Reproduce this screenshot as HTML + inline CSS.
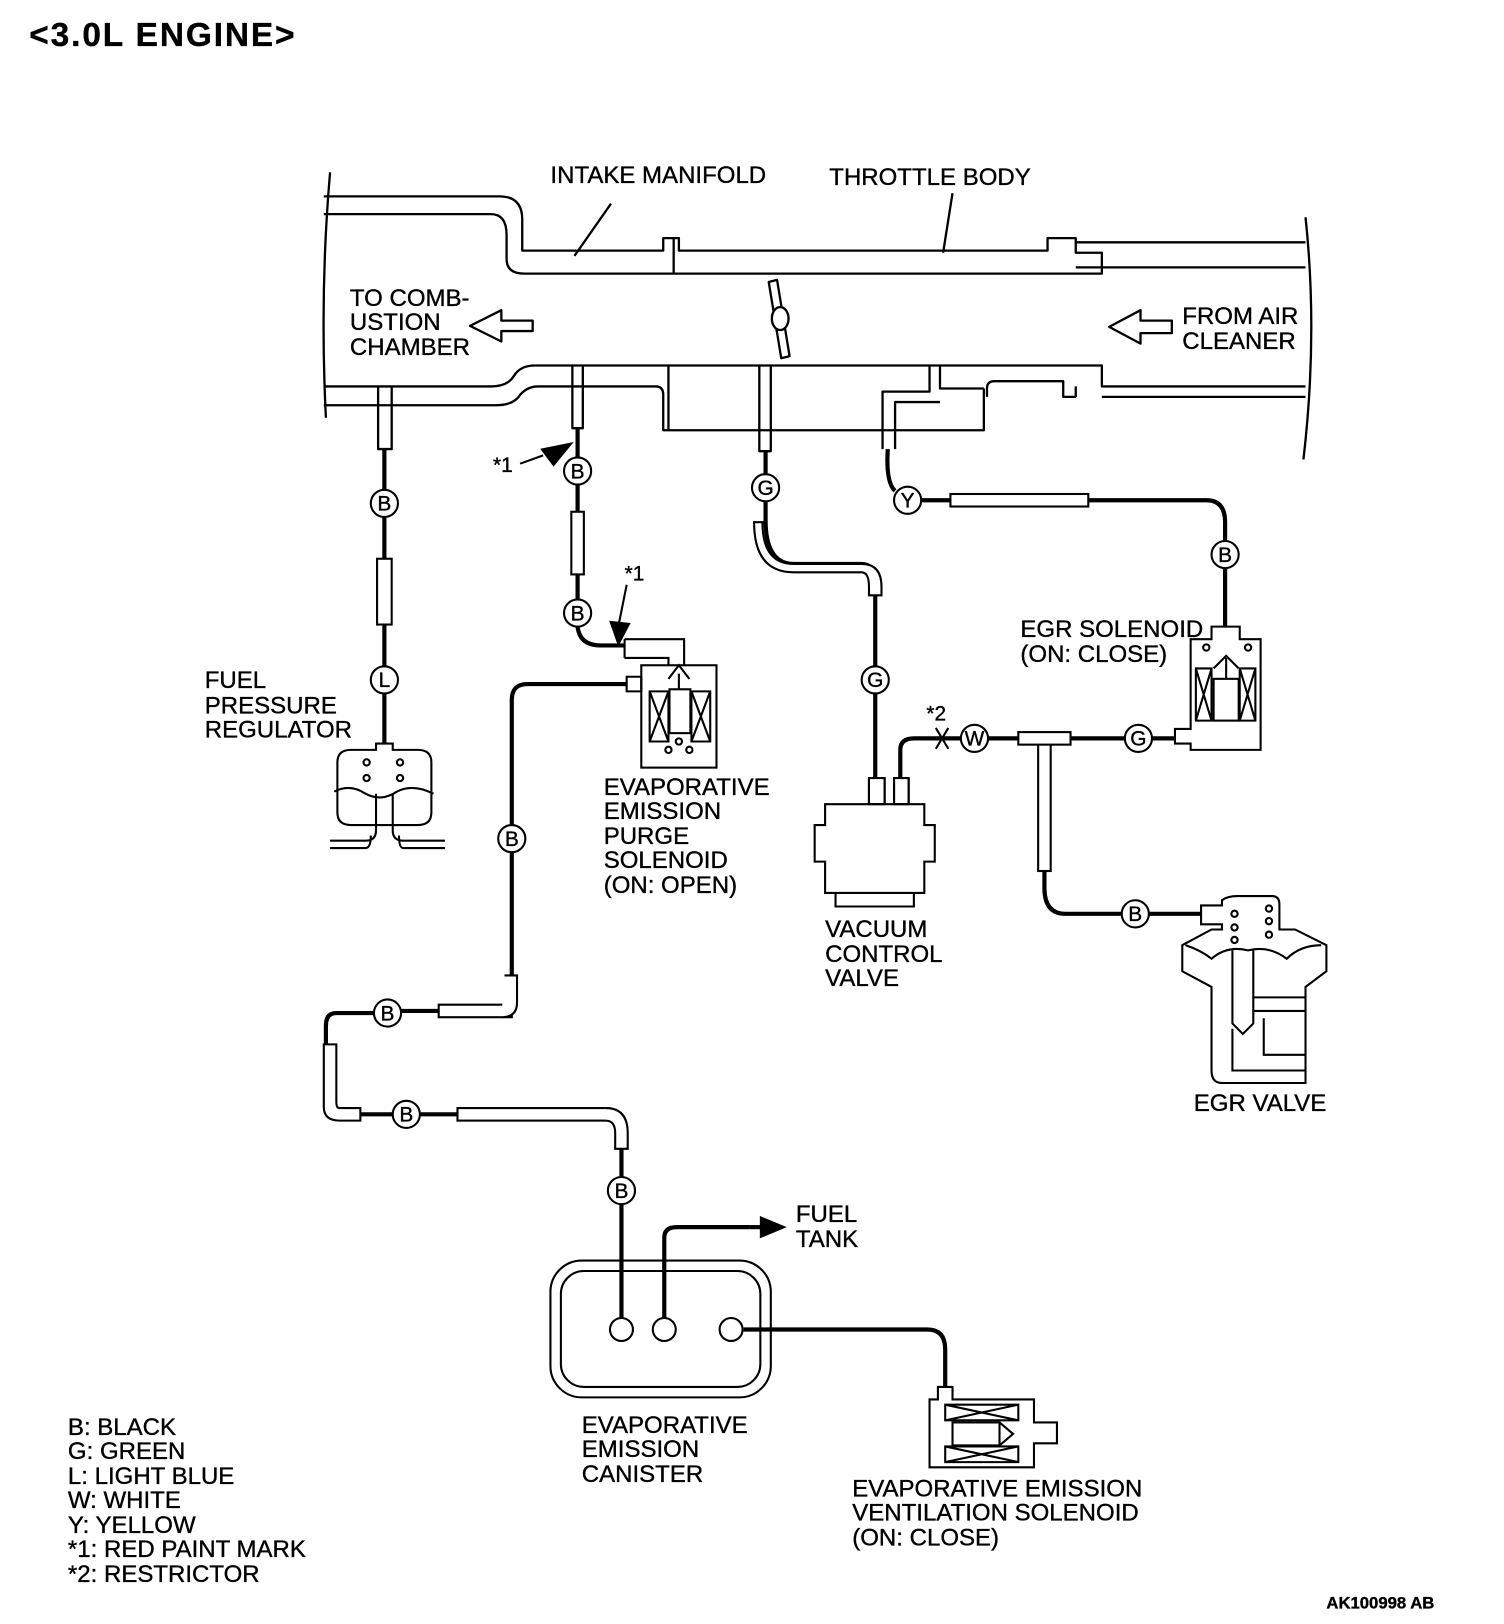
<!DOCTYPE html>
<html><head><meta charset="utf-8"><style>
html,body{margin:0;padding:0;background:#fff;}
svg{display:block}
text{font-family:"Liberation Sans",Arial,sans-serif;fill:#000;stroke:#000;stroke-width:0.35;}
</style></head><body>
<svg width="1504" height="1624" viewBox="0 0 1440 1555" xmlns="http://www.w3.org/2000/svg">
<g fill="none" stroke="#000" stroke-width="2.2" stroke-linejoin="round">
<path d="M316,165 Q306,280 312,400"/>
<path d="M1250,208 Q1262,320 1248,440"/>
<path d="M310,188 H478 Q500,188 500,210 V240 H635 V228 H650 V240 H1003 V228 H1030 V232 H1250"/>
<path d="M310,205 H470 Q485,205 485,225 V248 Q485,262 502,262 H1055 V242 H1030 V232"/>
<path d="M645,228 V262"/>
<path d="M1030,256 H1250"/>
<path d="M310,370 H470 Q486,370 492,360 Q498,350 512,350 H1055 V370 H1250"/>
<path d="M310,388 H475 Q492,388 498,378 Q505,370 515,370 H628 Q635,370 635,378 V412 H942 V372"/>
<path d="M1055,380 H1250"/>
<path d="M1030,370 V380"/>
<path d="M640,350 V412"/>
<path d="M900,350 V372 H942"/>
<path d="M945,380 V372 Q945,365 952,365 H1018 V380 H1030"/>
<path d="M362,370 V430 H375 V370"/>
<path d="M548,350 V410 H558 V350"/>
<path d="M727,350 V432 H738 V350"/>
<path d="M845,430 V375 H890 V350 M857,430 V385 H900"/>
<path d="M585,195 L550,245"/>
<path d="M912,185 L903,242"/>
<polygon points="736,270 744,268 756,341 748,343" fill="#fff"/>
<ellipse cx="747" cy="305" rx="8" ry="11" fill="#fff"/>
<path d="M510,307 H480 V297 L450,312 L480,327 V317 H510 Z" fill="#fff"/>
<path d="M1122,307 H1092 V297 L1062,313 L1092,329 V319 H1122 Z" fill="#fff"/>
</g>

<g fill="none" stroke="#000" stroke-width="4">
<path d="M368,430 V469 M368,495 V638 M368,664 V712"/>
<path d="M553,410 V438 M553,464 V574 M553,600 Q555,618 575,618 H598"/>
<path d="M600,655 H505 Q490,655 490,670 V790 M490,816 V935 Q490,945 485,948"/>
<path d="M420,968 H384 M358,970 H322 Q312,970 312,982 V1058 Q312,1067 325,1067 H376 M402,1067 H580 Q595,1067 595,1085 V1127 M595,1153 V1262"/>
<path d="M636,1262 V1185 Q636,1175 648,1175 H718"/>
<path d="M712,1273 H888 Q905,1273 905,1292 V1328"/>
<path d="M733,432 V454 M733,480 V498 Q733,540 760,540 H825 Q838,540 838,560 V638 M838,664 V745"/>
<path d="M862,745 V718 Q862,707 875,707 H920 M946,707 H1077 M1103,707 H1125"/>
<path d="M1000,718 V850 Q1000,875 1020,875 H1074 M1100,875 H1150"/>
<path d="M850,430 Q848,462 857,470 M882,479 H1155 Q1173,479 1173,500 V518 M1173,544 V600"/>
</g>
<g fill="#fff" stroke="#000" stroke-width="2">
<rect x="361" y="535" width="14" height="63"/>
<rect x="547" y="490" width="12" height="60"/>
<rect x="420" y="962" width="70" height="12"/>
<path d="M483,934 L495,934 L495,960 Q495,974 480,974"/>
<rect x="438" y="1061" width="145" height="12"/>
<path d="M580,1061 Q601,1061 601,1085 V1100 H589 V1085 Q589,1073 580,1073"/>
<path d="M314,1000 H310 V1060 Q310,1073 325,1073 H345 V1061 H325 Q322,1061 322,1055 V1000 Z"/>
<path d="M730,500 Q730,540 760,540 H825 Q844,540 844,562 V570 H832 V562 Q832,548 825,548 H760 Q722,548 722,500 Z"/>
<rect x="910" y="473" width="132" height="12"/>
<rect x="994" y="710" width="12" height="124"/>
<rect x="975" y="701" width="50" height="12"/>
</g>
<g fill="#fff" stroke="#000" stroke-width="2">
<circle cx="368" cy="482" r="13"/><circle cx="368" cy="651" r="13"/>
<circle cx="553" cy="451" r="13"/><circle cx="553" cy="587" r="13"/>
<circle cx="490" cy="803" r="13"/><circle cx="371" cy="970" r="13"/>
<circle cx="389" cy="1067" r="13"/><circle cx="595" cy="1140" r="13"/>
<circle cx="733" cy="467" r="13"/><circle cx="838" cy="651" r="13"/>
<circle cx="933" cy="707" r="13"/><circle cx="1090" cy="707" r="13"/>
<circle cx="1087" cy="875" r="13"/><circle cx="869" cy="479" r="13"/>
<circle cx="1173" cy="531" r="13"/>
</g>
<g font-size="20" text-anchor="middle">
<text x="368" y="489">B</text><text x="368" y="658">L</text>
<text x="553" y="458">B</text><text x="553" y="594">B</text>
<text x="490" y="810">B</text><text x="371" y="977">B</text>
<text x="389" y="1074">B</text><text x="595" y="1147">B</text>
<text x="733" y="474">G</text><text x="838" y="658">G</text>
<text x="933" y="714">W</text><text x="1090" y="714">G</text>
<text x="1087" y="882">B</text><text x="869" y="486">Y</text>
<text x="1173" y="538">B</text>
</g>

<g fill="none" stroke="#000" stroke-width="2">
<path d="M360,712 H376 V718 H400 Q413,718 413,730 V778 Q413,790 400,790 H336 Q323,790 323,778 V730 Q323,718 336,718 H360 Z"/>
<path d="M320,758 Q335,750 350,760 Q365,768 380,758 Q395,750 415,760"/>
<path d="M360,760 V795 Q360,805 350,805 H316 M376,760 V795 Q376,805 386,805 H426 M316,812 H350 Q355,812 355,800 M426,812 H386 Q382,812 382,800"/>
<circle cx="351" cy="730" r="3"/><circle cx="351" cy="745" r="3"/><circle cx="383" cy="730" r="3"/><circle cx="383" cy="745" r="3"/>
<path d="M598,612 H655 V637 M598,630 H640 V637 M598,612 V630"/>
<rect x="614" y="637" width="72" height="98"/>
<path d="M622,662 H640 V710 H622 Z M622,662 L640,710 M640,662 L622,710 M662,662 H680 V710 H662 Z M662,662 L680,710 M680,662 L662,710"/>
<rect x="641" y="660" width="20" height="42"/>
<path d="M640,650 L650,637 L660,650 M650,645 V660"/>
<path d="M600,648 H614 V662 H600 Z"/>
<circle cx="640" cy="718" r="3"/><circle cx="660" cy="718" r="3"/><circle cx="650" cy="710" r="3"/>
<path d="M832,745 V770 M847,745 V770 M856,745 V770 M870,745 V770"/>
<rect x="832" y="745" width="15" height="25"/><rect x="856" y="745" width="14" height="25"/>
<path d="M790,770 H885 V790 H895 V825 H885 V855 H790 V825 H780 V790 H790 Z"/>
<path d="M800,855 V868 H875 V855"/>
<path d="M896,697 L908,717 M908,697 L896,717"/>
<path d="M1160,600 H1187 V612 H1207 V718 H1140 V712 H1125 V698 H1140 V612 H1160 Z"/>
<path d="M1145,640 H1160 V690 H1145 Z M1145,640 L1160,690 M1160,640 L1145,690 M1187,640 H1202 V690 H1187 Z M1187,640 L1202,690 M1202,640 L1187,690"/>
<rect x="1162" y="650" width="24" height="40"/>
<path d="M1162,640 L1174,628 L1186,640 M1174,630 V650"/>
<circle cx="1155" cy="620" r="3"/><circle cx="1195" cy="620" r="3"/>
<path d="M1150,867 H1170 V862 Q1175,858 1185,858 H1218 Q1225,858 1225,866 V890 H1240 L1270,905 V930 L1250,945 V975 V1037 H1220 H1170 Q1160,1037 1160,1025 V945 L1132,930 V905 L1160,890 H1170 V885 H1150 Z"/>
<path d="M1135,905 Q1150,910 1160,918 Q1175,905 1195,910 Q1215,905 1232,918 Q1245,905 1265,905"/>
<path d="M1180,910 V980 L1190,990 L1200,980 V910"/>
<path d="M1200,955 H1250 M1200,968 H1250 M1210,975 V1010 H1250 M1180,985 V1025 H1250"/>
<circle cx="1182" cy="875" r="3"/><circle cx="1182" cy="888" r="3"/><circle cx="1182" cy="900" r="3"/>
<circle cx="1215" cy="870" r="3"/><circle cx="1215" cy="882" r="3"/><circle cx="1215" cy="895" r="3"/>
<rect x="527" y="1207" width="211" height="131" rx="30"/>
<rect x="537" y="1217" width="191" height="111" rx="22"/>
<circle cx="595" cy="1273" r="11"/><circle cx="636" cy="1273" r="11"/><circle cx="700" cy="1273" r="11"/>
<path d="M898,1328 H912 V1340 H990 V1362 H1012 V1382 H990 V1405 H890 V1340 H898 Z"/>
<path d="M905,1345 H975 V1360 H905 Z M905,1345 L975,1360 M975,1345 L905,1360 M905,1385 H975 V1400 H905 Z M905,1385 L975,1400 M975,1385 L905,1400"/>
<rect x="912" y="1362" width="45" height="22"/>
<path d="M957,1362 L970,1373 L957,1384"/>
</g>
<g fill="#000" stroke="#000">
<path d="M498,444 L520,436" stroke-width="2"/>
<path d="M518,430 L548,424 L530,446 Z"/>
<path d="M600,560 L592,600" stroke-width="2"/>
<path d="M584,595 L592,618 L603,597 Z"/>
<path d="M718,1175 H730" stroke-width="4"/>
<path d="M728,1165 L752,1175 L728,1185 Z"/>
</g>

<g font-size="23">
<text x="28" y="44" font-size="32" font-weight="bold" textLength="254">&lt;3.0L ENGINE&gt;</text>
<text x="527" y="175">INTAKE MANIFOLD</text>
<text x="794" y="177">THROTTLE BODY</text>
<text x="335" y="293">TO COMB-</text>
<text x="335" y="316">USTION</text>
<text x="335" y="340">CHAMBER</text>
<text x="1132" y="310">FROM AIR</text>
<text x="1132" y="334">CLEANER</text>
<text x="472" y="452" font-size="20">*1</text>
<text x="598" y="556" font-size="20">*1</text>
<text x="887" y="690" font-size="20">*2</text>
<text x="196" y="659">FUEL</text>
<text x="196" y="683">PRESSURE</text>
<text x="196" y="706">REGULATOR</text>
<text x="578" y="761">EVAPORATIVE</text>
<text x="578" y="784">EMISSION</text>
<text x="578" y="808">PURGE</text>
<text x="578" y="831">SOLENOID</text>
<text x="578" y="855">(ON: OPEN)</text>
<text x="977" y="610">EGR SOLENOID</text>
<text x="977" y="634">(ON: CLOSE)</text>
<text x="790" y="897">VACUUM</text>
<text x="790" y="921">CONTROL</text>
<text x="790" y="944">VALVE</text>
<text x="1143" y="1064">EGR VALVE</text>
<text x="762" y="1170">FUEL</text>
<text x="762" y="1194">TANK</text>
<text x="557" y="1372">EVAPORATIVE</text>
<text x="557" y="1395">EMISSION</text>
<text x="557" y="1419">CANISTER</text>
<text x="816" y="1433">EVAPORATIVE EMISSION</text>
<text x="816" y="1456">VENTILATION SOLENOID</text>
<text x="816" y="1480">(ON: CLOSE)</text>
<text x="65" y="1374">B: BLACK</text>
<text x="65" y="1397">G: GREEN</text>
<text x="65" y="1421">L: LIGHT BLUE</text>
<text x="65" y="1444">W: WHITE</text>
<text x="65" y="1468">Y: YELLOW</text>
<text x="65" y="1491">*1: RED PAINT MARK</text>
<text x="65" y="1515">*2: RESTRICTOR</text>
<text x="1270" y="1540" font-size="16" font-weight="bold">AK100998 AB</text>
</g>
</svg>
</body></html>
